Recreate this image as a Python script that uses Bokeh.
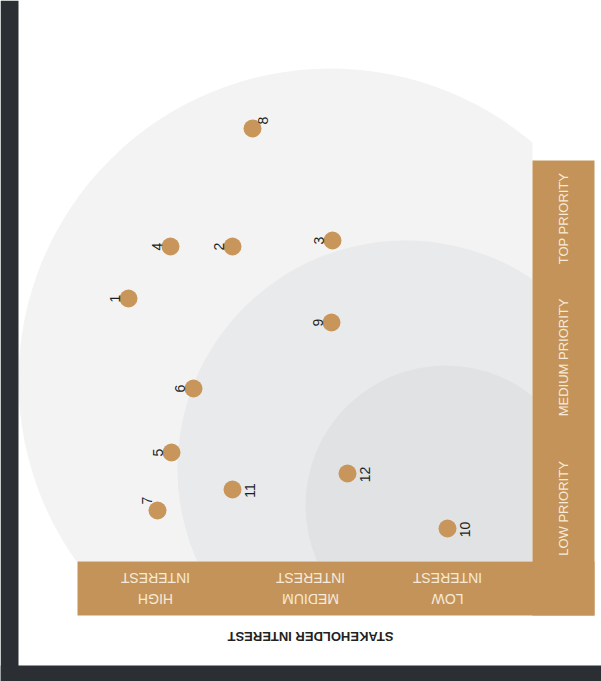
import math
from bokeh.plotting import figure
from bokeh.models import Range1d, ColumnDataSource
from bokeh.core.properties import value
from bokeh.embed import file_html
from bokeh.resources import INLINE

# ---------------- data ----------------
ids = ["1", "2", "3", "4", "5", "6", "7", "8", "9", "10", "11", "12"]
interest = [40.4, 30.0, 20.0, 36.2, 36.1, 33.9, 37.5, 28.0, 20.1, 8.5, 30.0, 18.5]
priority = [26.3, 31.5, 32.1, 31.5, 10.9, 17.3, 5.1, 43.3, 23.9, 3.3, 7.2, 8.8]
label_side = ["left", "left", "left", "left", "left", "left", "upleft", "upright",
              "left", "right", "right", "right"]

zone_cx = [20.2, 12.7, 8.7]
zone_cy = [18.1, 9.3, 5.6]
zone_r = [31.2, 22.8, 14.0]
zone_colors = ["#f3f3f3", "#e9eaeb", "#e0e2e3"]

interest_labels = ["HIGH\nINTEREST", "MEDIUM\nINTEREST", "LOW\nINTEREST"]
interest_pos = [37.7, 22.2, 8.5]
priority_labels = ["TOP PRIORITY", "MEDIUM PRIORITY", "LOW PRIORITY"]
priority_pos = [34.3, 20.4, 5.3]
axis_title = "STAKEHOLDER INTEREST"
axis_title_pos = 22.2

# ---------------- layout ----------------
W, H = 601, 681
X0, X1 = 53.2, -6.9
Y0, Y1 = -12.0, 56.1
BAND = 5.4        # band thickness
BAND_END = -6.2   # outer edge of bands
BOTTOM_BAND_LEFT = 45.5
RIGHT_BAND_TOP = 40.1

GOLD = "#c4935a"
DOT = "#c8955b"
DARK = "#2b2f34"
FONT = value("Liberation Sans")

p = figure(width=W, height=H, output_backend="svg", toolbar_location=None,
           x_range=Range1d(X0, X1), y_range=Range1d(Y0, Y1),
           x_axis_type=None, y_axis_type=None, min_border=0,
           background_fill_color="#ffffff", border_fill_color="#ffffff",
           outline_line_color=None)
p.grid.visible = False

# priority zones
for cx, cy, r, c in zip(zone_cx, zone_cy, zone_r, zone_colors):
    p.circle(x=[cx], y=[cy], radius=r, fill_color=c, line_color=None)

# clip zones to the quadrant
p.quad(left=[0], right=[X1], bottom=[Y0], top=[Y1], fill_color="#ffffff", line_color=None)
p.quad(left=[X0], right=[X1], bottom=[Y0], top=[0], fill_color="#ffffff", line_color=None)

# bands
p.quad(left=[BOTTOM_BAND_LEFT], right=[BAND_END], bottom=[-BAND], top=[0],
       fill_color=GOLD, line_color=None)
p.quad(left=[0], right=[BAND_END], bottom=[-BAND], top=[RIGHT_BAND_TOP],
       fill_color=GOLD, line_color=None)

# dark page edges
p.quad(left=[X0], right=[X0 - 1.8], bottom=[Y0], top=[Y1], fill_color=DARK, line_color=None)
p.quad(left=[X0], right=[X1], bottom=[Y0], top=[Y0 + 1.6], fill_color=DARK, line_color=None)

# band labels
p.text(x=interest_pos, y=[-BAND / 2] * 3, text=interest_labels, angle=math.pi,
       text_align="center", text_baseline="middle", text_color="#f7ead8",
       text_font=FONT, text_font_size="14px", text_line_height=1.35)
p.text(x=[BAND_END / 2] * 3, y=priority_pos, text=priority_labels, angle=math.pi / 2,
       text_align="center", text_baseline="middle", text_color="#f7ead8",
       text_font=FONT, text_font_size="13px")
p.text(x=[axis_title_pos], y=[-7.5], text=[axis_title], angle=math.pi,
       text_align="center", text_baseline="middle", text_color="#222222",
       text_font=FONT, text_font_size="13px", text_font_style="bold")

# stakeholders
offsets = {"left": (-14, 0), "right": (17, 1), "upleft": (-11, -10), "upright": (10, -8)}
src = ColumnDataSource(dict(
    x=interest, y=priority, t=ids,
    xo=[offsets[s][0] for s in label_side],
    yo=[offsets[s][1] for s in label_side],
))
p.scatter("x", "y", source=src, size=18, fill_color=DOT, line_color=None)
p.text("x", "y", text="t", source=src, x_offset="xo", y_offset="yo", angle=math.pi / 2,
       text_align="center", text_baseline="middle", text_color="#1e1e1e",
       text_font=FONT, text_font_size="14px")

open("out.html", "w").write(file_html(p, INLINE))
